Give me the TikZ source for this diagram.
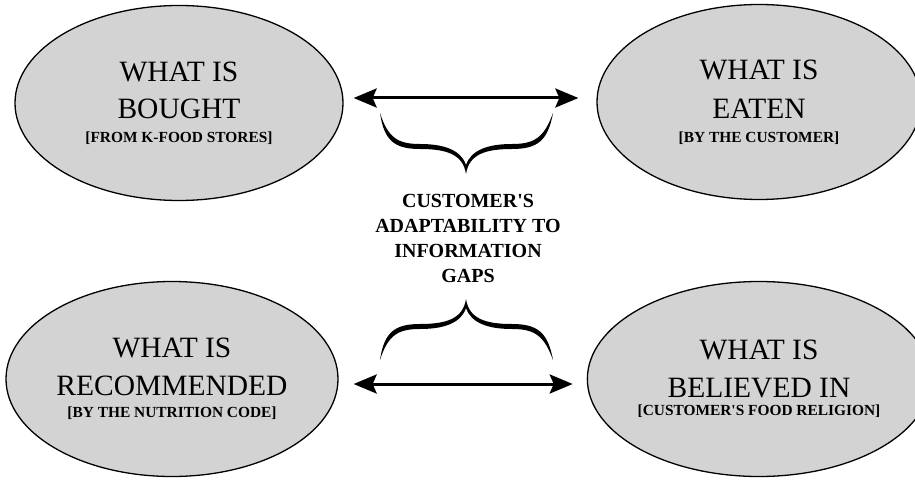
\documentclass[tikz,border=0pt]{standalone}
\usepackage{fontspec}
\setmainfont{Liberation Serif}
\usetikzlibrary{shapes.geometric,arrows.meta}
\definecolor{bubblegray}{RGB}{211,211,211}
\newcommand{\subline}[1]{{\fontsize{15.4}{18}\selectfont\bfseries #1}}

\begin{document}
\begin{tikzpicture}[x=1pt,y=-1pt,
        bubble/.style={ellipse,draw,line width=1.3pt,fill=bubblegray,inner sep=0pt,
            minimum width=328pt,minimum height=195pt,align=center,
            font=\fontsize{29.5}{37}\selectfont},
        gaparrow/.style={line width=3pt,
            {Stealth[length=23pt,width=19pt,inset=4pt]}-{Stealth[length=23pt,width=19pt,inset=4pt]}},
        gapbrace/.pic={
            \fill (-86,-61) .. controls (-82,-33) and (-71,-25) .. (-46,-25)
                .. controls (-20,-25) and (-3,-20) .. (0,0)
                .. controls (3,-20) and (20,-25) .. (46,-25)
                .. controls (71,-25) and (82,-33) .. (87,-61)
                .. controls (78,-36) and (68,-30) .. (46,-30)
                .. controls (22,-30) and (5,-24) .. (0,-9)
                .. controls (-5,-24) and (-22,-30) .. (-46,-30)
                .. controls (-68,-30) and (-78,-36) .. (-86,-61) -- cycle;
        }]
    \useasboundingbox (0,0) rectangle (915,481);
    % the four views
    \node[bubble] (bought) at (179,103) {WHAT IS\\BOUGHT\\[-13pt]\subline{[FROM K-FOOD STORES]}};
    \node[bubble,minimum width=324pt] (eaten) at (759,102) {WHAT IS\\[2pt]EATEN\\[-13pt]\subline{[BY THE CUSTOMER]}};
    \node[bubble,minimum width=332pt] (recommended) at (172,379) {WHAT IS\\[1pt]RECOMMENDED\\[-15pt]\subline{[BY THE NUTRITION CODE]}};
    \node[bubble,minimum width=328pt] (believed) at (759,379) {WHAT IS\\[1pt]BELIEVED IN\\[-19pt]\subline{[CUSTOMER\textquotesingle S FOOD RELIGION]}};
    % gaps in between
    \node[font=\fontsize{20}{25}\selectfont\bfseries,align=center] (gaps) at (468,238)
        {CUSTOMER\textquotesingle S\\ADAPTABILITY TO\\INFORMATION\\GAPS};
    \draw[gaparrow,shorten <=10pt,shorten >=18pt] ([yshift=5pt]bought.east) -- ([yshift=4pt]eaten.west);
    \draw[gaparrow,shorten <=15pt,shorten >=14pt] ([yshift=-5pt]recommended.east) -- ([yshift=-5pt]believed.west);
    \pic at (466,174) {gapbrace};
    \pic[yscale=-1] at (466,299) {gapbrace};
\end{tikzpicture}
\end{document}
